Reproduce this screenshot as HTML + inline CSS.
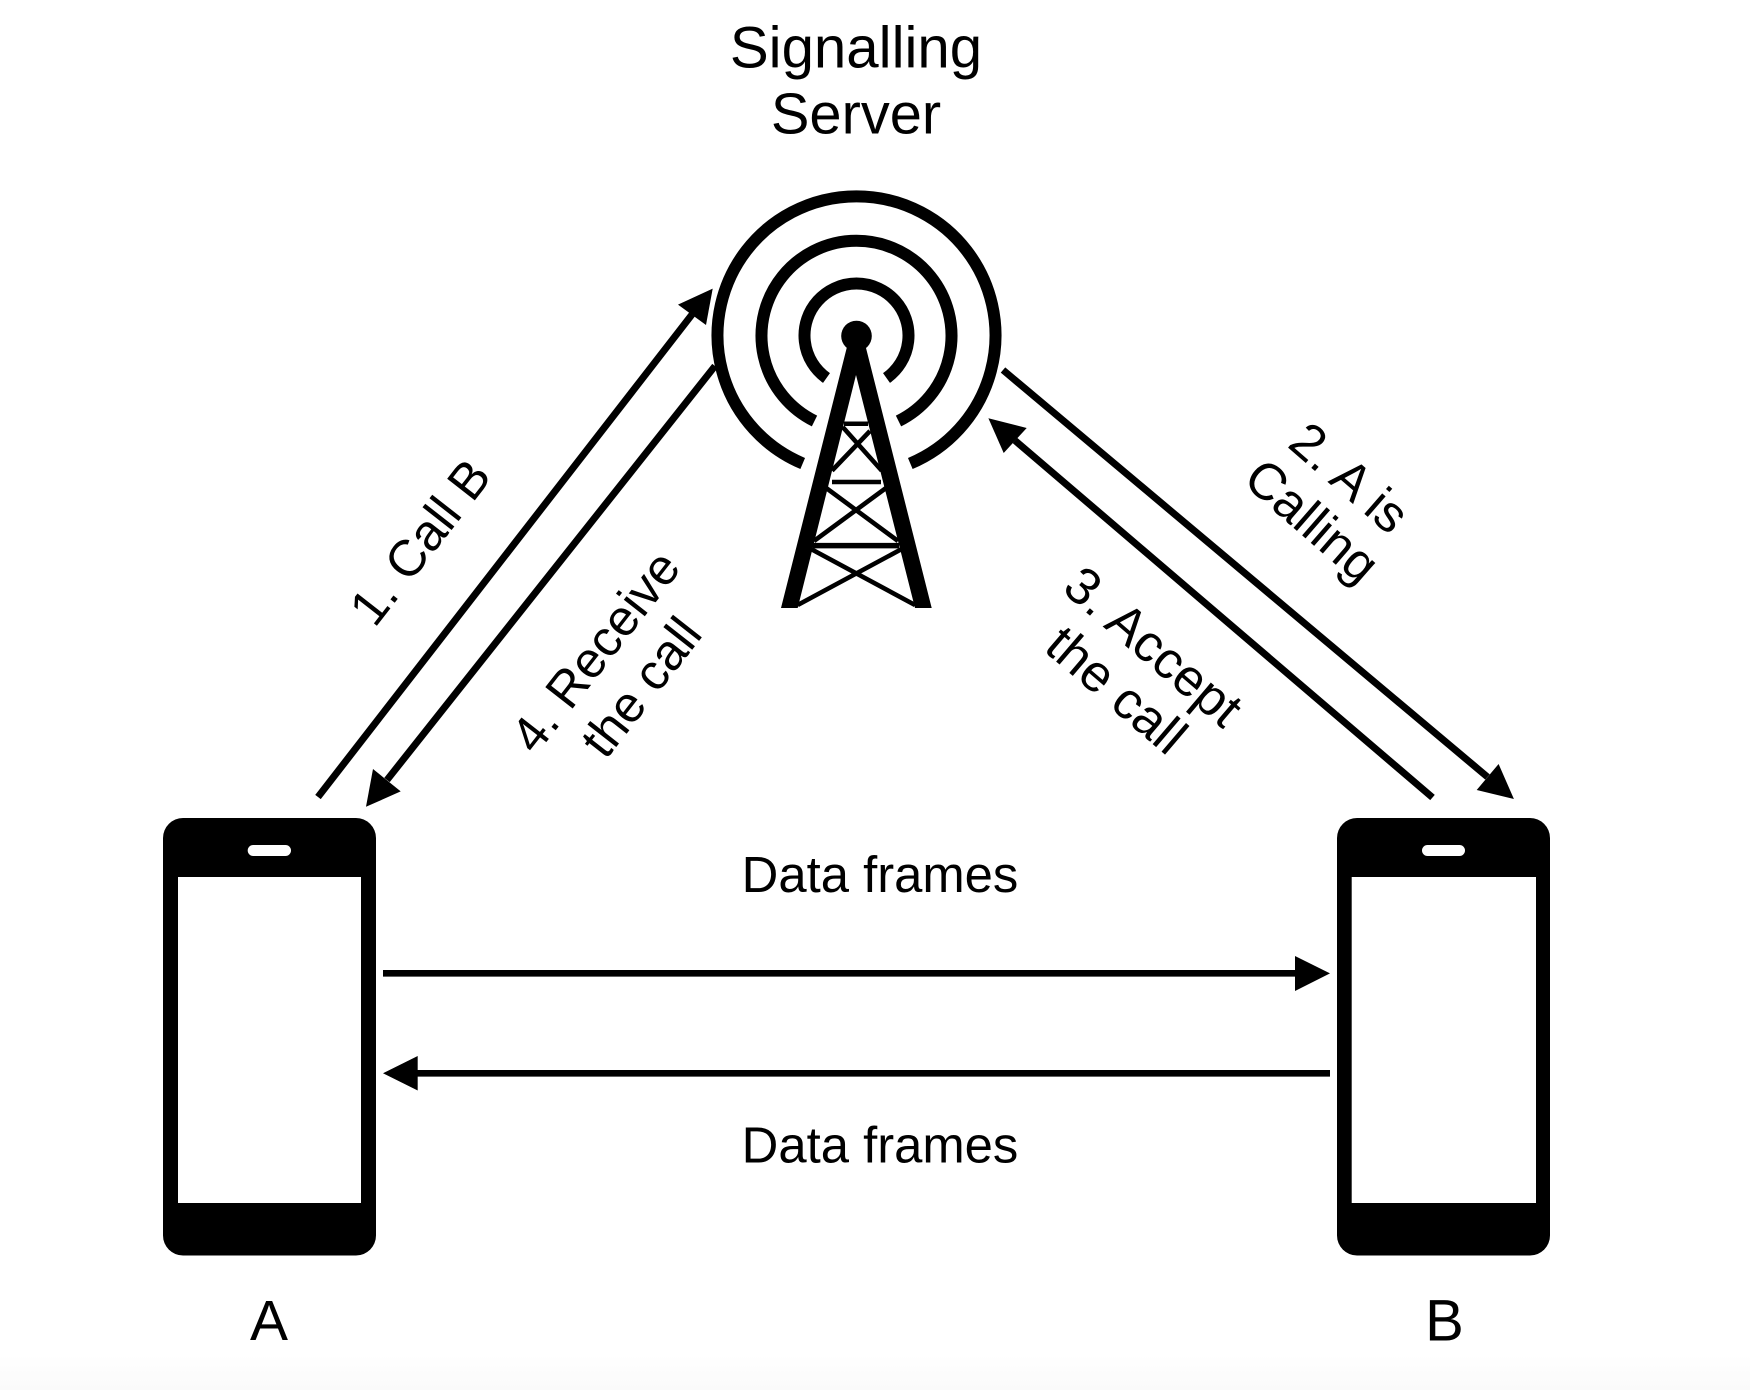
<!DOCTYPE html>
<html>
<head>
<meta charset="utf-8">
<style>
html,body{margin:0;padding:0;background:#fff;width:1750px;height:1390px;overflow:hidden}
svg{display:block}
text{font-family:"Liberation Sans",Arial,sans-serif;fill:#000}
</style>
</head>
<body>
<svg width="1750" height="1390" viewBox="0 0 1750 1390" xmlns="http://www.w3.org/2000/svg">
<defs>
<linearGradient id="bg" x1="0" y1="0" x2="0" y2="1"><stop offset="0" stop-color="#fff"/><stop offset="1" stop-color="#fafafa"/></linearGradient>
</defs>
<rect width="1750" height="1390" fill="#fff"/>
<rect y="1355" width="1750" height="35" fill="url(#bg)"/>

<!-- Title -->
<text x="856" y="67.5" font-size="58.2" text-anchor="middle">Signalling</text>
<text x="856" y="133.5" font-size="57.8" text-anchor="middle">Server</text>

<!-- Signal rings -->
<g fill="none" stroke="#000" stroke-width="12">
<path d="M802.7 463.5 A 139 139 0 1 1 910.3 463.5"/>
<path d="M814.5 421 A 95 95 0 1 1 898.5 421"/>
<path d="M826.5 378 A 52 52 0 1 1 886.5 378"/>
</g>
<circle cx="856.5" cy="336" r="15.3" fill="#000"/>

<!-- Tower -->
<path d="M847.7 344 L865 344 L931.7 608 L915 608 L856 375 L797.7 608 L781 608 Z" fill="#000"/>
<g stroke="#000" fill="none">
<path d="M844 423.7 H868" stroke-width="4.5"/>
<path d="M832 482 H881" stroke-width="4.5"/>
<path d="M813 545.6 H899" stroke-width="5.5"/>
<path d="M842.7 427 L881.7 470.6 M870 431 L832 470.6" stroke-width="4.6"/>
<path d="M826.7 488.4 L898 541 M886 488 L814 541" stroke-width="4.6"/>
<path d="M811 549 L915 605 M901.7 549 L797.7 605" stroke-width="4.6"/>
</g>

<!-- Diagonal arrows -->
<g stroke="#000" stroke-width="7" fill="none">
<path d="M318 797 L692 314.5"/>
<path d="M715 366 L387 780"/>
<path d="M1003 370 L1487.5 777"/>
<path d="M1432.5 797.5 L1015 440.5"/>
</g>
<g fill="#000">
<polygon points="712.7,288.6 678,304.6 706,325"/>
<polygon points="366,806.8 373,769 400.7,791.4"/>
<polygon points="1513.9,799 1498.6,764 1476.7,790"/>
<polygon points="988.4,418.3 1026.7,428 1003.7,453"/>
</g>

<!-- Horizontal arrows -->
<path d="M383 973.3 H1296" stroke="#000" stroke-width="6.7"/>
<polygon points="1330,973.4 1295,956 1295,991" fill="#000"/>
<path d="M1330 1073.3 H417" stroke="#000" stroke-width="6.7"/>
<polygon points="383,1073.3 417.7,1056 417.7,1090.5" fill="#000"/>

<!-- Phone A -->
<rect x="163" y="818" width="213" height="437.5" rx="20" ry="20" fill="#000"/>
<rect x="178" y="877" width="183" height="326" fill="#fff"/>
<rect x="247.7" y="845" width="43.3" height="11" rx="5.5" ry="5.5" fill="#fff"/>

<!-- Phone B -->
<rect x="1337" y="818" width="213" height="437.5" rx="20" ry="20" fill="#000"/>
<rect x="1351.7" y="877" width="184.3" height="326" fill="#fff"/>
<rect x="1422" y="845" width="43" height="11" rx="5.5" ry="5.5" fill="#fff"/>

<!-- Labels -->
<text x="269" y="1340" font-size="57" text-anchor="middle">A</text>
<text x="1444.5" y="1340.5" font-size="58" text-anchor="middle">B</text>
<text x="880" y="892" font-size="50.8" text-anchor="middle">Data frames</text>
<text x="880" y="1162.5" font-size="50.8" text-anchor="middle">Data frames</text>

<text transform="translate(433.8 552.8) rotate(-52)" font-size="51" text-anchor="middle">1. Call B</text>
<g transform="translate(609 662) rotate(-52)" font-size="50.5" text-anchor="middle">
<text x="0" y="0">4. Receive</text>
<text x="0" y="58">the call</text>
</g>
<g transform="translate(1338 491) rotate(41)" font-size="51.5" text-anchor="middle">
<text x="0" y="0">2. A is</text>
<text x="0" y="57">Calling</text>
</g>
<g transform="translate(1142 660) rotate(40.5)" font-size="52" text-anchor="middle">
<text x="0" y="0">3. Accept</text>
<text x="0" y="57">the call</text>
</g>
</svg>
</body>
</html>
